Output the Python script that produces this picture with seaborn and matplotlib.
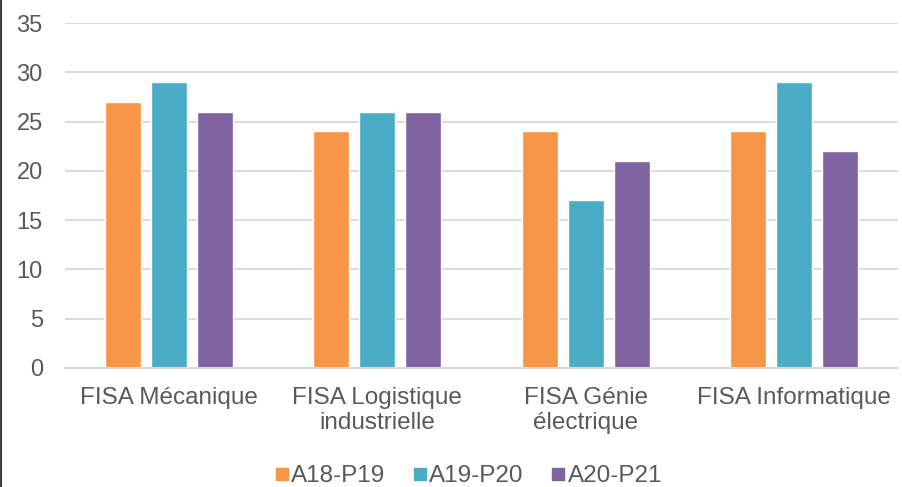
import numpy as np
import pandas as pd
import matplotlib.pyplot as plt
import seaborn as sns
from matplotlib.lines import Line2D

# data
categories = ["FISA Mécanique", "FISA Logistique\nindustrielle",
              "FISA Génie\nélectrique", "FISA Informatique"]
series = ["A18-P19", "A19-P20", "A20-P21"]
a18_p19 = [27, 24, 24, 24]
a19_p20 = [29, 26, 17, 29]
a20_p21 = [26, 26, 21, 22]
colors = ["#F79646", "#4BACC6", "#8064A2"]

df = pd.DataFrame({
    "cat": categories * 3,
    "serie": [series[0]] * 4 + [series[1]] * 4 + [series[2]] * 4,
    "val": a18_p19 + a19_p20 + a20_p21,
})

sns.set_style("white")
plt.rcParams['font.family'] = ['Liberation Sans', 'DejaVu Sans']
txt = "#595959"

fig = plt.figure(figsize=(9.03, 4.87), dpi=100)
ax = fig.add_axes([65 / 903, 1 - 368 / 487, 833 / 903, 345 / 487])

sns.barplot(data=df, x="cat", y="val", hue="serie", palette=colors,
            width=0.663, gap=0.22, saturation=1, ax=ax, legend=True)

ax.set_ylim(0, 35)
ax.set_yticks(np.arange(0, 36, 5))
ax.yaxis.grid(True, color="#D9D9D9", linewidth=1.3)
ax.set_axisbelow(True)
for s in ["top", "right", "left"]:
    ax.spines[s].set_visible(False)
ax.spines["bottom"].set_color("#D9D9D9")
ax.spines["bottom"].set_linewidth(1.5)
ax.tick_params(axis="y", length=0, pad=16, labelsize=17, labelcolor=txt)
ax.tick_params(axis="x", length=0, pad=14, labelsize=17.5, labelcolor=txt)
for lab in ax.get_xticklabels():
    lab.set_linespacing(1.15)
ax.set_xlabel("")
ax.set_ylabel("")

handles = [Line2D([], [], marker="s", linestyle="", color=c, markersize=9) for c in colors]
ax.legend(handles, series, loc="center", bbox_to_anchor=(467 / 903, 11 / 487),
          bbox_transform=fig.transFigure, ncol=3, frameon=False,
          fontsize=17.5, labelcolor=txt, handletextpad=0.0, columnspacing=1.0,
          handlelength=0.8)

# left border of the chart frame
fig.add_artist(Line2D([0.001, 0.001], [0, 1], color="#404040", linewidth=1.5,
                      transform=fig.transFigure))

fig.savefig("out.png", dpi=100)
